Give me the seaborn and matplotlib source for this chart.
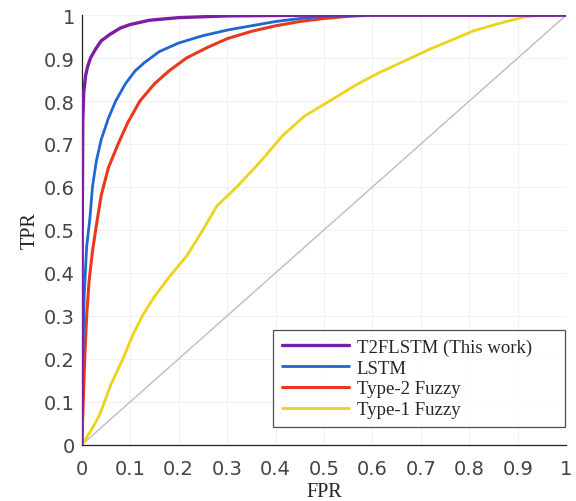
import pandas as pd
import matplotlib
matplotlib.use("Agg")
import matplotlib.pyplot as plt
import seaborn as sns

# ROC curves
fpr_t2flstm = [0, 0.001, 0.002, 0.004, 0.008, 0.012, 0.018, 0.028, 0.04, 0.058, 0.08, 0.1, 0.14, 0.2, 0.3, 0.5, 0.7, 1.0]
tpr_t2flstm = [0, 0.5, 0.75, 0.82, 0.86, 0.88, 0.9, 0.92, 0.94, 0.955, 0.97, 0.978, 0.988, 0.994, 0.998, 1.0, 1.0, 1.0]

fpr_lstm = [0, 0.002, 0.005, 0.01, 0.017, 0.022, 0.03, 0.04, 0.055, 0.07, 0.09, 0.11, 0.13, 0.16, 0.2, 0.25,
            0.3, 0.35, 0.4, 0.45, 0.5, 0.6, 0.8, 1.0]
tpr_lstm = [0, 0.2, 0.35, 0.46, 0.53, 0.6, 0.66, 0.71, 0.76, 0.8, 0.84, 0.87, 0.89, 0.915, 0.935, 0.952,
            0.965, 0.975, 0.985, 0.992, 0.997, 1.0, 1.0, 1.0]

fpr_type2 = [0, 0.003, 0.006, 0.01, 0.015, 0.022, 0.03, 0.04, 0.055, 0.075, 0.095, 0.12, 0.15, 0.18, 0.216,
             0.26, 0.3, 0.35, 0.4, 0.45, 0.5, 0.55, 0.6, 0.8, 1.0]
tpr_type2 = [0, 0.1, 0.2, 0.3, 0.38, 0.45, 0.51, 0.58, 0.645, 0.7, 0.75, 0.8, 0.84, 0.87, 0.9,
             0.925, 0.945, 0.962, 0.975, 0.985, 0.992, 0.997, 1.0, 1.0, 1.0]

fpr_type1 = [0, 0.02, 0.037, 0.06, 0.085, 0.105, 0.125, 0.15, 0.18, 0.217, 0.25, 0.279, 0.32, 0.368, 0.415,
             0.46, 0.519, 0.57, 0.616, 0.67, 0.719, 0.76, 0.808, 0.86, 0.911, 0.95, 1.0]
tpr_type1 = [0, 0.035, 0.07, 0.14, 0.2, 0.255, 0.3, 0.345, 0.39, 0.44, 0.5, 0.556, 0.6, 0.658, 0.72,
             0.765, 0.805, 0.84, 0.867, 0.895, 0.921, 0.94, 0.963, 0.98, 0.995, 1.0, 1.0]

labels = ["T2FLSTM (This work)", "LSTM", "Type-2 Fuzzy", "Type-1 Fuzzy"]
colors = ["#7b1fa0", "#1f68d4", "#e8391d", "#eed21c"]
widths = [2.4, 2.0, 2.2, 2.0]
tick_vals = [0, 0.1, 0.2, 0.3, 0.4, 0.5, 0.6, 0.7, 0.8, 0.9, 1]
tick_labels = ["0", "0.1", "0.2", "0.3", "0.4", "0.5", "0.6", "0.7", "0.8", "0.9", "1"]

curves = {
    labels[0]: (fpr_t2flstm, tpr_t2flstm),
    labels[1]: (fpr_lstm, tpr_lstm),
    labels[2]: (fpr_type2, tpr_type2),
    labels[3]: (fpr_type1, tpr_type1),
}

sns.set_style("white")
plt.rcParams["font.family"] = ["DejaVu Sans"]

fig = plt.figure(figsize=(5.76, 5.02), dpi=100)
ax = fig.add_axes([0.142, 0.112, 0.841, 0.856])

# chance line
ax.plot([0, 1], [0, 1], color="#bdbdbd", lw=1.0, zorder=1)

# draw type-1 first so purple ends up on top
for name in reversed(labels):
    i = labels.index(name)
    fx, ty = curves[name]
    df = pd.DataFrame({"FPR": fx, "TPR": ty})
    sns.lineplot(data=df, x="FPR", y="TPR", sort=False, estimator=None, ax=ax,
                 color=colors[i], lw=widths[i], label=name, zorder=3)

ax.set_xlim(0, 1)
ax.set_ylim(0, 1)
ax.set_xticks(tick_vals)
ax.set_xticklabels(tick_labels)
ax.set_yticks(tick_vals)
ax.set_yticklabels(tick_labels)
ax.grid(True, color="#f1f1f1", lw=0.8)
ax.set_axisbelow(True)

for side in ["top", "right"]:
    ax.spines[side].set_visible(False)
for side in ["left", "bottom"]:
    ax.spines[side].set_color("#222222")
    ax.spines[side].set_linewidth(0.9)

ax.tick_params(axis="both", direction="in", length=4, width=0.8, color="#222222",
               labelsize=14, labelcolor="#444444")
ax.tick_params(axis="y", pad=5)
ax.tick_params(axis="x", pad=10)

ax.set_xlabel("FPR", family="Liberation Serif", fontsize=14.5, color="#222222", labelpad=3)
ax.set_ylabel("TPR", family="Liberation Serif", fontsize=14.5, color="#222222", labelpad=3)

handles, hl = ax.get_legend_handles_labels()
order = [hl.index(n) for n in labels]
# legend box stretched to the width seen in the reference
leg = ax.legend([handles[i] for i in order], [hl[i] for i in order], loc="lower left",
                bbox_to_anchor=(0.395, 0.042, 0.603, 0.221), mode="expand", frameon=True,
                fancybox=False, prop={"family": "Liberation Serif", "size": 13.5},
                handlelength=3.6, handletextpad=0.4, labelspacing=0.2, borderpad=0.45,
                borderaxespad=0.0)
leg.get_frame().set_edgecolor("#222222")
leg.get_frame().set_linewidth(0.9)

fig.savefig("out.png", dpi=100)
